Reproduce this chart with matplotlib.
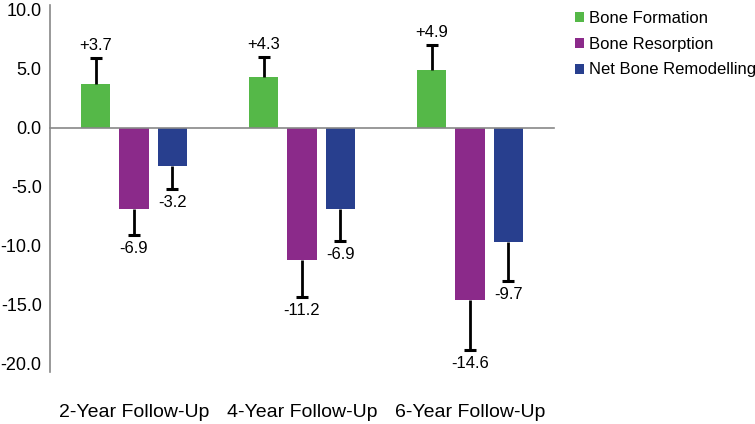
import numpy as np
import matplotlib
matplotlib.use("Agg")
import matplotlib.pyplot as plt

# dane
groups = ["2-Year Follow-Up", "4-Year Follow-Up", "6-Year Follow-Up"]
series = ["Bone Formation", "Bone Resorption", "Net Bone Remodelling"]
formation = [3.7, 4.3, 4.9]
resorption = [-6.9, -11.2, -14.6]
net = [-3.2, -6.9, -9.7]
formation_err = [2.2, 1.7, 2.1]
resorption_err = [2.2, 3.1, 4.2]
net_err = [2.0, 2.7, 3.3]

colors = ["#55b848", "#8b2a8a", "#283f8e"]

plt.rcParams["font.family"] = ["Liberation Sans", "DejaVu Sans"]

fig = plt.figure(figsize=(7.55, 4.24), dpi=100)
ax = fig.add_axes([50 / 755, 52 / 424, 504 / 755, 367 / 424])

x = np.arange(len(groups))
width = 0.175
step = 0.228
values = [formation, resorption, net]
errors = [formation_err, resorption_err, net_err]

for i, (vals, errs) in enumerate(zip(values, errors)):
    pos = x + (i - 1) * step
    vals = np.array(vals)
    errs = np.array(errs)
    ax.bar(pos, vals, width, color=colors[i], label=series[i], zorder=2)
    # jednostronne słupki błędów, kreska tylko na końcu
    ends = vals + np.sign(vals) * errs
    ax.vlines(pos, vals, ends, colors="black", linewidth=2, zorder=3)
    ax.plot(pos, ends, linestyle="none", marker="_", markersize=8,
            markeredgewidth=2.2, color="black", zorder=3)
    for p, v, e in zip(pos, vals, ends):
        if v > 0:
            ax.text(p, e + 0.45, f"+{v:.1f}", ha="center", va="bottom", fontsize=12)
        else:
            ax.text(p, e - 0.5, f"{v:.1f}", ha="center", va="top", fontsize=12)

ax.set_xlim(-0.5, 2.5)
ax.set_ylim(-20.68, 10.42)
ticks = np.arange(-20, 10.1, 5)
ax.set_yticks(ticks)
ax.set_yticklabels([f"{t:.1f}" for t in ticks], fontsize=13)
ax.tick_params(axis="y", length=0, pad=6)
ax.set_xticks([])

for s in ["top", "right"]:
    ax.spines[s].set_visible(False)
ax.spines["bottom"].set_position(("data", 0))
ax.spines["bottom"].set_color("#888888")
ax.spines["left"].set_color("#888888")
ax.spines["bottom"].set_linewidth(1.2)
ax.spines["left"].set_linewidth(1.2)

for xi, g in zip(x, groups):
    ax.text(xi, -24.1, g, ha="center", va="center", fontsize=14)

ax.legend(loc="upper left", bbox_to_anchor=(1.012, 1.025), frameon=False,
          fontsize=12, handlelength=0.55, handleheight=0.55, handletextpad=0.3,
          labelspacing=0.65)

fig.savefig("out.png", dpi=100)
